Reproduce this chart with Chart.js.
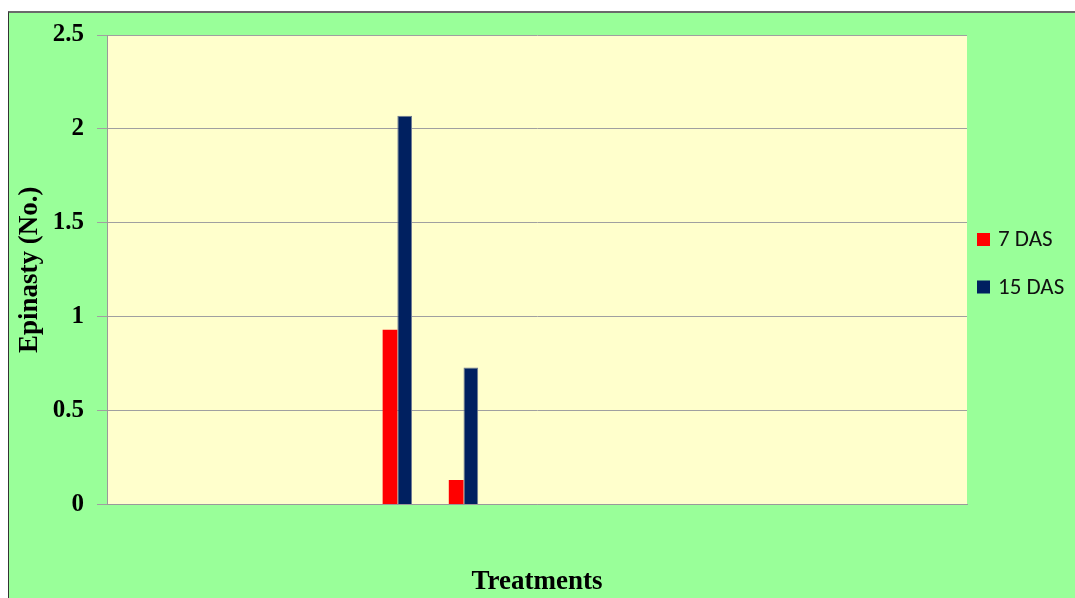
<!DOCTYPE html>
<html lang="en">

<head>
    <meta charset="UTF-8">
    <title>Epinasty</title>
    <script src="https://cdn.jsdelivr.net/npm/chart.js"></script>
    <style>
        body { margin: 0; background: #fff; width: 1075px; height: 598px; overflow: hidden; position: relative; }
        #frame {
            position: absolute; left: 8px; top: 11px; right: 0; bottom: 0;
            background: #99ff99;
            border-top: 2px solid #6a6a6a;
            border-left: 1px solid #333;
        }
        #chart { position: absolute; left: 0; top: 0; }
    </style>
</head>

<body>
    <div id="frame"></div>
    <canvas id="chart" width="1075" height="598"></canvas>

    <script>
        // treatments T1..T13, only T5 and T6 showed any epinasty
        const treatments = ['T1', 'T2', 'T3', 'T4', 'T5', 'T6', 'T7', 'T8', 'T9', 'T10', 'T11', 'T12', 'T13'];
        const das7 = [0, 0, 0, 0, 0.93, 0.13, 0, 0, 0, 0, 0, 0, 0];
        const das15 = [0, 0, 0, 0, 2.07, 0.73, 0, 0, 0, 0, 0, 0, 0];
        // empty third series, keeps the bar slots the same as the original sheet
        const spare = [0, 0, 0, 0, 0, 0, 0, 0, 0, 0, 0, 0, 0];
        const yTicks = [0, 0.5, 1, 1.5, 2, 2.5];

        const plotBg = {
            id: 'plotBg',
            beforeDraw(chart) {
                const { ctx, chartArea: a } = chart;
                ctx.save();
                ctx.fillStyle = '#ffffcc';
                ctx.fillRect(a.left, a.top, a.right - a.left, a.bottom - a.top);
                ctx.restore();
            }
        };

        // legend drawn by hand to the right of the plot
        const sideLegend = {
            id: 'sideLegend',
            afterDraw(chart) {
                const { ctx, chartArea: a } = chart;
                ctx.save();
                ctx.font = '23px Carlito, Calibri, Lato, sans-serif';
                ctx.textBaseline = 'middle';
                let y = a.top + 204.5;
                chart.data.datasets.forEach(ds => {
                    if (!ds.label) return;
                    ctx.fillStyle = ds.backgroundColor;
                    ctx.fillRect(a.right + 10, y - 6.5, 13, 13);
                    ctx.fillStyle = '#111';
                    ctx.fillText(ds.label, a.right + 31, y + 1);
                    y += 47.5;
                });
                ctx.restore();
            }
        };

        new Chart(document.getElementById('chart'), {
            type: 'bar',
            data: {
                labels: treatments,
                datasets: [
                    { label: '7 DAS', data: das7, backgroundColor: '#ff0000' },
                    { label: '15 DAS', data: das15, backgroundColor: '#002060', borderColor: '#6f7a92', borderWidth: 1 },
                    { label: '', data: spare, backgroundColor: 'transparent' }
                ]
            },
            options: {
                responsive: false,
                devicePixelRatio: 1,
                animation: false,
                layout: { padding: { top: 35, right: 108, bottom: 0, left: 0 } },
                datasets: { bar: { categoryPercentage: 3 / 4.5, barPercentage: 1 } },
                plugins: { legend: { display: false }, tooltip: { enabled: false } },
                scales: {
                    x: {
                        grid: { display: false },
                        border: { display: true, color: '#9a9a9a' },
                        ticks: { display: false },
                        title: {
                            display: true, text: 'Treatments', color: '#000',
                            font: { family: 'Liberation Serif', size: 27, weight: 'bold' },
                            padding: 0
                        },
                        afterFit(scale) { scale.height = 93.5; }
                    },
                    y: {
                        min: 0,
                        max: 2.5,
                        afterBuildTicks(scale) { scale.ticks = yTicks.map(v => ({ value: v })); },
                        ticks: {
                            color: '#000',
                            padding: 13,
                            font: { family: 'Liberation Serif', size: 25, weight: 'bold' },
                            callback: v => String(v)
                        },
                        grid: { color: '#a0a0a0', tickLength: 10 },
                        border: { color: '#9a9a9a' },
                        title: {
                            display: true, text: 'Epinasty (No.)', color: '#000',
                            font: { family: 'Liberation Serif', size: 27, weight: 'bold' },
                            padding: { top: 14, bottom: 0 }
                        },
                        afterFit(scale) { scale.width = 107; }
                    }
                }
            },
            plugins: [plotBg, sideLegend]
        });
    </script>
</body>

</html>
